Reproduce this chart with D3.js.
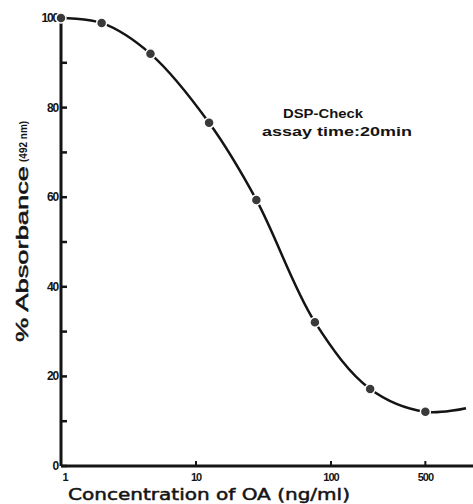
<!DOCTYPE html>
<html><head><meta charset="utf-8">
<script src="https://cdn.jsdelivr.net/npm/d3@7"></script>
<style>body{margin:0;background:#fff}svg{display:block}</style>
</head><body>
<script>
const concentration = [1, 2, 4.6, 12.5, 28, 76, 195, 500];
const absorbance    = [100, 98.9, 92, 76.6, 59.4, 32.1, 17.2, 12.1];
const curveExtraX = [1000];
const curveExtraY = [12.9];
const xTicks = [1, 10, 100, 500];
const yMajorTicks = [0, 20, 40, 60, 80, 100];
const yMinorTicks = [10, 30, 50, 70, 90];
const annotation = ["DSP-Check", "assay time:20min"];

const W = 473, H = 504;
const svg = d3.select("body").append("svg").attr("width", W).attr("height", H);
const x = d3.scaleLog().domain([1, 1000]).range([61, 466]);
const y = d3.scaleLinear().domain([0, 100]).range([466, 18]);
const ink = "#141414";

// axes lines
svg.append("line").attr("x1", x(1)).attr("x2", W).attr("y1", y(0)).attr("y2", y(0))
  .attr("stroke", ink).attr("stroke-width", 3);
svg.append("line").attr("x1", x(1)).attr("x2", x(1)).attr("y1", y(0)).attr("y2", y(100))
  .attr("stroke", ink).attr("stroke-width", 3);

// y ticks (inside)
svg.selectAll(".ymaj").data(yMajorTicks.concat(yMinorTicks)).join("line")
  .attr("x1", x(1)).attr("x2", x(1) + 6).attr("y1", d => y(d)).attr("y2", d => y(d))
  .attr("stroke", ink).attr("stroke-width", 2.5);
svg.selectAll(".ylab").data(yMajorTicks).join("text")
  .attr("x", x(1) - 3).attr("y", d => y(d) + 4).attr("text-anchor", "end")
  .attr("font-family", "Liberation Sans, Arial, sans-serif").attr("font-weight", "bold")
  .attr("font-size", 12).attr("letter-spacing", -1.2).attr("fill", ink).text(d => d);

// x ticks
svg.selectAll(".xt").data(xTicks.filter(d => d > 1)).join("line")
  .attr("x1", d => x(d)).attr("x2", d => x(d)).attr("y1", y(0) - 5).attr("y2", y(0) + 1)
  .attr("stroke", ink).attr("stroke-width", 2);
svg.selectAll(".xlab").data(xTicks).join("text")
  .attr("x", d => x(d) + (d === 1 ? 4 : 0)).attr("y", y(0) + 15).attr("text-anchor", "middle")
  .attr("font-family", "Liberation Sans, Arial, sans-serif").attr("font-weight", "bold")
  .attr("font-size", 11).attr("letter-spacing", -1).attr("fill", ink).text(d => d);

// axis titles
svg.append("text").attr("x", 68).attr("y", 500)
  .attr("font-family", "DejaVu Sans, sans-serif").attr("font-size", 16)
  .attr("fill", ink).attr("stroke", ink).attr("stroke-width", 0.5)
  .attr("textLength", 282).attr("lengthAdjust", "spacingAndGlyphs")
  .text("Concentration of OA (ng/ml)");
const yl = svg.append("text").attr("transform", "translate(28,342) rotate(-90)")
  .attr("font-family", "Liberation Sans, Arial, sans-serif").attr("fill", ink)
  .attr("stroke", ink).attr("stroke-width", 0.5);
yl.append("tspan").attr("font-size", 17).attr("textLength", 176).attr("lengthAdjust", "spacingAndGlyphs").text("% Absorbance");
yl.append("tspan").attr("font-size", 10).attr("font-weight", "bold").attr("stroke-width", 0).attr("dx", 4).attr("dy", -1).text("(492 nm)");

// fitted curve
const pts = concentration.map((c, i) => [c, absorbance[i]])
  .concat(curveExtraX.map((c, i) => [c, curveExtraY[i]]));
const line = d3.line().x(d => x(d[0])).y(d => y(d[1])).curve(d3.curveCatmullRom.alpha(0.5));
svg.append("path").attr("d", line(pts)).attr("fill", "none")
  .attr("stroke", ink).attr("stroke-width", 2.5);

// points
svg.selectAll(".pt").data(concentration).join("circle")
  .attr("cx", d => x(d)).attr("cy", (d, i) => y(absorbance[i])).attr("r", 5)
  .attr("fill", "#3a3a3a").attr("stroke", "#fff").attr("stroke-width", 1.5);

// annotation
svg.append("text").attr("x", 323).attr("y", 118).attr("text-anchor", "middle")
  .attr("font-family", "Liberation Sans, Arial, sans-serif").attr("font-size", 13).attr("font-weight", "bold").attr("fill", ink)
  .attr("textLength", 80).attr("lengthAdjust", "spacingAndGlyphs").text(annotation[0]);
svg.append("text").attr("x", 337).attr("y", 136).attr("text-anchor", "middle")
  .attr("font-family", "Liberation Sans, Arial, sans-serif").attr("font-size", 13).attr("font-weight", "bold").attr("fill", ink)
  .attr("textLength", 150).attr("lengthAdjust", "spacingAndGlyphs").text(annotation[1]);
</script>
</body></html>
